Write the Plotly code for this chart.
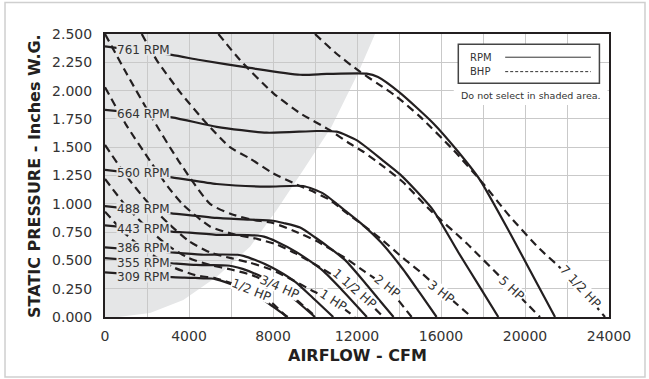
import plotly.graph_objects as go

# ---- fan curves: airflow (CFM) vs static pressure (in. W.G.) ----
rpm761_cfm = [0, 3180, 4520, 6900, 9290, 10560, 12460, 13000, 14050, 15640, 16750, 17860, 19290, 20400, 21430]
rpm761_sp = [2.39, 2.315, 2.27, 2.20, 2.14, 2.147, 2.15, 2.12, 1.98, 1.71, 1.475, 1.21, 0.74, 0.356, 0]
rpm664_cfm = [0, 3180, 5320, 7700, 10080, 11030, 12000, 13250, 14050, 14840, 15640, 16830, 17800, 18730]
rpm664_sp = [1.83, 1.764, 1.68, 1.628, 1.643, 1.637, 1.56, 1.38, 1.26, 1.11, 0.94, 0.57, 0.28, 0]
rpm560_cfm = [0, 3180, 5320, 7700, 9440, 10400, 11500, 12300, 13140, 14200, 15000, 15790]
rpm560_sp = [1.30, 1.234, 1.175, 1.151, 1.157, 1.09, 0.93, 0.81, 0.66, 0.42, 0.21, 0]
rpm488_cfm = [0, 3180, 5320, 6900, 8000, 8500, 9290, 10030, 10740, 11450, 12370, 13080, 13740]
rpm488_sp = [0.98, 0.916, 0.875, 0.86, 0.85, 0.83, 0.79, 0.70, 0.605, 0.50, 0.305, 0.146, 0]
rpm443_cfm = [0, 3180, 4020, 5410, 6150, 7250, 7570, 8180, 9100, 9750, 10400, 11230, 11880, 12470]
rpm443_sp = [0.81, 0.755, 0.745, 0.725, 0.726, 0.72, 0.71, 0.665, 0.575, 0.495, 0.405, 0.25, 0.12, 0]
rpm386_cfm = [0, 3180, 3500, 4710, 5360, 6320, 6590, 7130, 7930, 8500, 9060, 9780, 10350, 10870]
rpm386_sp = [0.615, 0.57, 0.566, 0.55, 0.552, 0.55, 0.54, 0.505, 0.44, 0.38, 0.31, 0.19, 0.09, 0]
rpm355_cfm = [0, 3180, 4330, 4930, 5810, 6070, 6550, 7300, 7810, 8330, 9000, 9520, 10000]
rpm355_sp = [0.52, 0.475, 0.46, 0.458, 0.455, 0.448, 0.425, 0.37, 0.32, 0.263, 0.16, 0.077, 0]
rpm309_cfm = [0, 3180, 3770, 4290, 5060, 5300, 5700, 6350, 6800, 7250, 7830, 8280, 8700]
rpm309_sp = [0.394, 0.352, 0.348, 0.345, 0.34, 0.332, 0.31, 0.265, 0.225, 0.185, 0.115, 0.055, 0]

rpm_labels = ["761 RPM", "664 RPM", "560 RPM", "488 RPM", "443 RPM", "386 RPM", "355 RPM", "309 RPM"]
rpm_label_sp = [2.36, 1.80, 1.275, 0.96, 0.78, 0.61, 0.485, 0.36]
rpm_label_cfm = 1810

# ---- brake horsepower lines ----
hp7_5_cfm = [10000, 11000, 12140, 13000, 13890, 15000, 16590, 18000, 19290, 20710, 21590, 22700, 23810]
hp7_5_sp = [2.50, 2.33, 2.167, 2.06, 1.946, 1.77, 1.475, 1.18, 0.886, 0.60, 0.45, 0.24, 0]
hp5_cfm = [5400, 6430, 8020, 9290, 10710, 11670, 12300, 13250, 14200, 15480, 17220, 18970, 20714]
hp5_sp = [2.50, 2.27, 1.976, 1.80, 1.65, 1.53, 1.46, 1.33, 1.19, 0.945, 0.651, 0.327, 0]
hp3_cfm = [1750, 2460, 3600, 4840, 5950, 6900, 8000, 9130, 10000, 10710, 11500, 12300, 13140, 14200, 15000, 16030, 17460]
hp3_sp = [2.50, 2.27, 1.98, 1.71, 1.50, 1.40, 1.27, 1.17, 1.10, 1.034, 0.92, 0.81, 0.69, 0.52, 0.40, 0.23, 0]
hp2_cfm = [0, 1000, 2140, 3500, 5000, 6000, 7000, 8000, 9000, 10030, 10740, 11450, 12370, 13440, 14600]
hp2_sp = [2.50, 2.16, 1.79, 1.38, 1.0, 0.91, 0.86, 0.83, 0.76, 0.675, 0.60, 0.52, 0.40, 0.26, 0]
hp1_5_cfm = [0, 1000, 2140, 3000, 3730, 5000, 6150, 7250, 8180, 9100, 10400, 11860, 13250]
hp1_5_sp = [2.03, 1.70, 1.38, 1.15, 0.99, 0.80, 0.73, 0.69, 0.64, 0.56, 0.42, 0.25, 0]
hp1_cfm = [0, 1000, 2000, 3000, 4000, 5000, 6000, 6900, 7900, 9000, 10000, 10870, 11900]
hp1_sp = [1.52, 1.25, 1.02, 0.83, 0.67, 0.57, 0.52, 0.48, 0.42, 0.32, 0.22, 0.14, 0]
hp0_75_cfm = [0, 1000, 2000, 3000, 4000, 5000, 6000, 7000, 8000, 8330, 9000, 10050]
hp0_75_sp = [1.22, 0.98, 0.79, 0.63, 0.52, 0.46, 0.42, 0.37, 0.29, 0.26, 0.17, 0]
hp0_5_cfm = [0, 1000, 2000, 3240, 4300, 5300, 6000, 6990, 7940, 8650]
hp0_5_sp = [0.93, 0.73, 0.58, 0.44, 0.37, 0.34, 0.30, 0.235, 0.125, 0]

hp_labels = ["1/2 HP", "3/4 HP", "1 HP", "1 1/2 HP", "2 HP", "3 HP", "5 HP", "7 1/2 HP"]
hp_label_cfm = [6990, 8330, 10870, 11860, 13440, 16030, 19365, 22620]
hp_label_sp = [0.24, 0.262, 0.15, 0.253, 0.274, 0.224, 0.253, 0.27]
hp_label_angle = [22, 24, 33, 41, 38, 38, 43, 47]

# ---- "do not select" shaded region boundary ----
shade_cfm = [0, 619, 2143, 3729, 5319, 6905, 8176, 9443, 10786, 11572, 12048, 12857]
shade_sp = [0, 0, 0.035, 0.15, 0.356, 0.621, 0.945, 1.299, 1.681, 1.976, 2.153, 2.5]

INK = "#231f20"
SHADE = "#e5e6e7"
FONT = "DejaVu Sans"

rpm_curves = [(rpm761_cfm, rpm761_sp), (rpm664_cfm, rpm664_sp), (rpm560_cfm, rpm560_sp),
              (rpm488_cfm, rpm488_sp), (rpm443_cfm, rpm443_sp), (rpm386_cfm, rpm386_sp),
              (rpm355_cfm, rpm355_sp), (rpm309_cfm, rpm309_sp)]
hp_curves = [(hp0_5_cfm, hp0_5_sp), (hp0_75_cfm, hp0_75_sp), (hp1_cfm, hp1_sp), (hp1_5_cfm, hp1_5_sp),
             (hp2_cfm, hp2_sp), (hp3_cfm, hp3_sp), (hp5_cfm, hp5_sp), (hp7_5_cfm, hp7_5_sp)]

fig = go.Figure()

for (cfm, sp), name in zip(hp_curves, hp_labels):
    fig.add_trace(go.Scatter(x=cfm, y=sp, mode="lines", name=name,
                             line=dict(color=INK, width=2.2, dash="8px,5px", shape="spline", smoothing=0.6),
                             showlegend=False, hoverinfo="skip"))

for (cfm, sp), name in zip(rpm_curves, rpm_labels):
    fig.add_trace(go.Scatter(x=cfm, y=sp, mode="lines", name=name,
                             line=dict(color=INK, width=2.2, shape="spline", smoothing=0.6),
                             showlegend=False, hoverinfo="skip"))

# shaded region as a path in data coordinates, under the grid
path = "M " + " L ".join(f"{c},{p}" for c, p in zip(shade_cfm, shade_sp))
path += f" L {shade_cfm[0]},{shade_sp[-1]} Z"
shapes = [dict(type="path", path=path, xref="x", yref="y", layer="below",
               fillcolor=SHADE, line=dict(width=0))]

# outer frame around the whole figure
shapes.append(dict(type="rect", xref="paper", yref="paper", x0=-0.1984, x1=1.0714, y0=-0.212, y1=1.111,
                   line=dict(color="#cfcfcf", width=1.5), layer="below"))

# legend box
shapes.append(dict(type="rect", xref="x domain", yref="y domain", x0=0.692, x1=0.997, y0=0.749, y1=0.826,
                   fillcolor="white", line=dict(width=0)))
shapes.append(dict(type="rect", xref="x domain", yref="y domain", x0=0.701, x1=0.981, y0=0.826, y1=0.9636,
                   fillcolor="white", line=dict(color="#444", width=1.5)))
shapes.append(dict(type="line", xref="x domain", yref="y domain", x0=0.794, x1=0.964, y0=0.918, y1=0.918,
                   line=dict(color="#333", width=1)))
shapes.append(dict(type="line", xref="x domain", yref="y domain", x0=0.794, x1=0.964, y0=0.867, y1=0.867,
                   line=dict(color="#333", width=1, dash="3px,2px")))

annotations = []
for name, sp in zip(rpm_labels, rpm_label_sp):
    annotations.append(dict(x=rpm_label_cfm, y=sp, xref="x", yref="y", text=name, showarrow=False,
                            xanchor="center", yanchor="middle",
                            font=dict(family=FONT, size=12, color="#333"), bgcolor=SHADE,
                            borderpad=0, height=11))
for name, c, sp, ang in zip(hp_labels, hp_label_cfm, hp_label_sp, hp_label_angle):
    annotations.append(dict(x=c, y=sp, xref="x", yref="y", text=name, showarrow=False, textangle=ang,
                            xanchor="center", yanchor="middle",
                            font=dict(family=FONT, size=12.5, color="#333"), bgcolor="white",
                            borderpad=0, height=12))

annotations += [
    dict(x=0.721, y=0.918, xref="x domain", yref="y domain", text="RPM", showarrow=False,
         xanchor="left", yanchor="middle", font=dict(family=FONT, size=10, color="#333")),
    dict(x=0.721, y=0.867, xref="x domain", yref="y domain", text="BHP", showarrow=False,
         xanchor="left", yanchor="middle", font=dict(family=FONT, size=10, color="#333")),
    dict(x=0.8456, y=0.782, xref="x domain", yref="y domain", text="Do not select in shaded area.",
         showarrow=False, xanchor="center", yanchor="middle", font=dict(family=FONT, size=9.5, color="#333")),
    dict(x=0.5, y=-0.135, xref="paper", yref="paper", text="AIRFLOW - CFM", showarrow=False,
         xanchor="center", yanchor="middle", font=dict(family=FONT, size=16, color=INK, weight="bold")),
    dict(x=-0.14, y=0.5, xref="paper", yref="paper", text="STATIC PRESSURE - Inches W.G.", showarrow=False,
         xanchor="center", yanchor="middle", textangle=-90,
         font=dict(family=FONT, size=16, color=INK, weight="bold")),
]

fig.update_layout(
    width=649, height=379,
    margin=dict(l=105, r=40, t=34, b=62),
    paper_bgcolor="white", plot_bgcolor="white",
    shapes=shapes, annotations=annotations,
    xaxis=dict(range=[0, 24000], dtick=4000, tick0=0, tickformat="d", showgrid=True, gridcolor="#c9c9c9",
               gridwidth=1, minor=dict(dtick=2000, showgrid=True, gridcolor="#c9c9c9", gridwidth=1),
               showline=True, linecolor=INK, linewidth=2, mirror=True, zeroline=False,
               ticks="", ticklabelstandoff=5, tickfont=dict(family=FONT, size=14, color="#333")),
    yaxis=dict(range=[0, 2.5], dtick=0.25, tick0=0, tickformat=".3f", showgrid=True, gridcolor="#c9c9c9",
               gridwidth=1, showline=True, linecolor=INK, linewidth=2, mirror=True, zeroline=False,
               ticks="", ticklabelstandoff=8, tickfont=dict(family=FONT, size=14, color="#333")),
)

fig.write_html("out.html", config={"displayModeBar": False},
               post_script="document.body.style.margin='0px';")
